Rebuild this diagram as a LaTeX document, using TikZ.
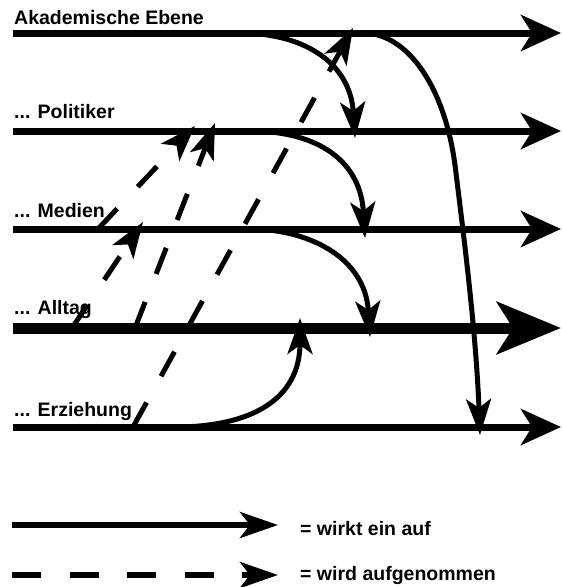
\documentclass[tikz,border=0pt]{standalone}
\usepackage{fontspec}
\setmainfont{Liberation Sans}
\usetikzlibrary{arrows.meta}
\begin{document}
\begin{tikzpicture}[x=1pt,y=-1pt,
  lbl/.style={font=\fontsize{19.5}{22}\selectfont\bfseries, anchor=base west, inner sep=0pt},
  level/.style={line width=7pt, -{Stealth[length=40pt,width=36pt,inset=11pt]}},
  biglevel/.style={line width=11pt, -{Stealth[length=64pt,width=52pt,inset=16pt]}},
  acts/.style={line width=5pt, -{Stealth[length=36pt,width=25pt,inset=9pt]}},
  absorbs/.style={line width=5pt, dash pattern=on 28pt off 30pt, -{Stealth[length=36pt,width=25pt,inset=9pt]}},
  legsolid/.style={line width=6pt, -{Stealth[length=38pt,width=26pt,inset=10pt]}},
  legdash/.style={line width=6pt, dash pattern=on 29pt off 28.5pt, -{Stealth[length=38pt,width=26pt,inset=10pt]}}]
\useasboundingbox (0,0) rectangle (562,587);

% labels
\node[lbl] (tA) at (14,24) {Akademische Ebene};
\node[lbl] (tP) at (14,118) {... Politiker};
\node[lbl] (tM) at (14,217) {... Medien};
\node[lbl] (tL) at (14,314) {... Alltag};
\node[lbl] (tE) at (14,416) {... Erziehung};

% level lines
\coordinate (a0) at (13,33);  \coordinate (a1) at (561,33);
\coordinate (p0) at (13,131); \coordinate (p1) at (561,131);
\coordinate (m0) at (13,229); \coordinate (m1) at (561,229);
\coordinate (l0) at (13,328); \coordinate (l1) at (561,328);
\coordinate (e0) at (13,427); \coordinate (e1) at (561,427);
\draw[level] (a0) -- (a1);
\draw[level] (p0) -- (p1);
\draw[level] (m0) -- (m1);
\draw[biglevel] (l0) -- (l1);
\draw[level] (e0) -- (e1);

% solid influences
\coordinate (c1s) at (240,33);  \coordinate (c1e) at (355,138);
\coordinate (c2s) at (250,131); \coordinate (c2e) at (365,238);
\coordinate (c3s) at (250,229); \coordinate (c3e) at (370,337);
\coordinate (c4s) at (175,427); \coordinate (c4e) at (300,318);
\coordinate (c5s) at (365,33);  \coordinate (c5m) at (455,165); \coordinate (c5e) at (480,435);
\draw[acts] (c1s) .. controls (300,33) and (350,60) .. (c1e);
\draw[acts] (c2s) .. controls (310,131) and (360,155) .. (c2e);
\draw[acts] (c3s) .. controls (305,229) and (365,255) .. (c3e);
\draw[acts] (c4s) .. controls (250,427) and (300,400) .. (c4e);
\draw[acts] (c5s) .. controls (410,35) and (445,90) .. (c5m) .. controls (463,230) and (476,330) .. (c5e);

% dashed uptake
\coordinate (dAs) at (133,427); \coordinate (dAe) at (353,28);
\coordinate (dBs) at (135,328); \coordinate (dBe) at (215,123);
\coordinate (dCs) at (72,328);  \coordinate (dCe) at (143,222);
\coordinate (dDs) at (98,229);  \coordinate (dDe) at (195,126);
\draw[absorbs] (dAs) -- (dAe);
\draw[absorbs] (dBs) -- (dBe);
\draw[absorbs] (dCs) -- (dCe);
\draw[absorbs] (dDs) -- (dDe);

% legend
\coordinate (ls0) at (12,525); \coordinate (ls1) at (278,525);
\coordinate (ld0) at (12,575); \coordinate (ld1) at (278,575);
\draw[legsolid] (ls0) -- (ls1);
\draw[legdash] (ld0) -- (ld1);
\node[lbl] (t1) at (300,535) {= wirkt ein auf};
\node[lbl] (t2) at (300,580) {= wird aufgenommen};
\end{tikzpicture}
\end{document}
